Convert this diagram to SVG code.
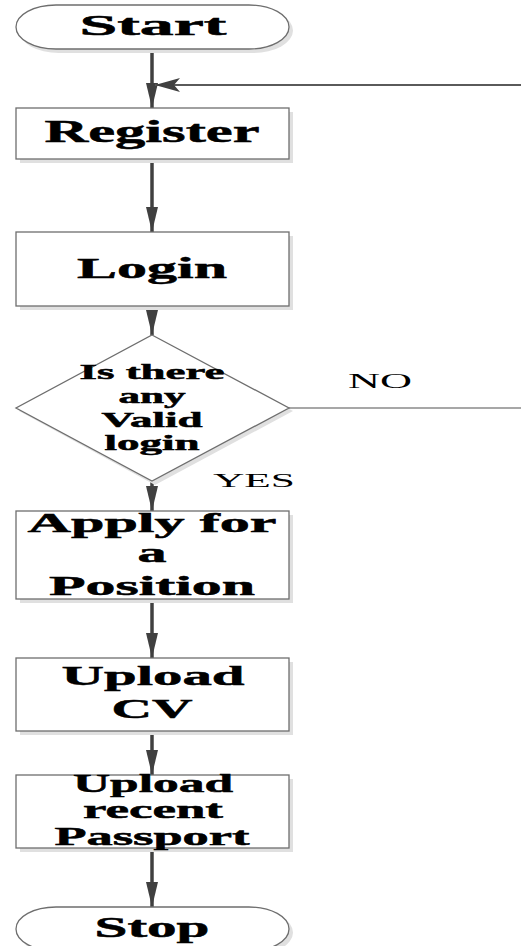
<svg xmlns="http://www.w3.org/2000/svg" width="521" height="946" viewBox="0 0 521 946">
  <style>
    .shape { fill: #ffffff; stroke: #6e6e6e; stroke-width: 1.3; }
    .shadow { fill: #e0e0e0; stroke: none; }
    .label { font-family: "Liberation Serif", "Times New Roman", serif; font-weight: bold; fill: #000; stroke: #000; stroke-width: 0.5; text-anchor: middle; }
    .edge-label { font-family: "Liberation Serif", "Times New Roman", serif; fill: #000; }
    .flow { stroke: #404040; stroke-width: 3.5; fill: none; }
    .thin { stroke: #5a5a5a; stroke-width: 2; fill: none; }
    .hair { stroke: #8a8a8a; stroke-width: 1.3; fill: none; }
  </style>
  <defs>
    <marker id="arrow-down" markerUnits="userSpaceOnUse" markerWidth="26" markerHeight="12" refX="25" refY="6" orient="auto" viewBox="0 0 26 12">
      <path d="M0,0 L25,6 L0,12 Z" fill="#404040"/>
    </marker>
    <marker id="arrow-back" markerUnits="userSpaceOnUse" markerWidth="26" markerHeight="14" refX="25" refY="7" orient="auto" viewBox="0 0 26 14">
      <path d="M0,0 L25,7 L0,14 L6,7 Z" fill="#404040"/>
    </marker>
  </defs>

  <rect width="521" height="946" fill="#ffffff"/>

  <!-- connectors -->
  <g id="connectors">
    <line class="flow" x1="152" y1="50" x2="152" y2="108" marker-end="url(#arrow-down)"/>
    <line class="thin" x1="521" y1="85" x2="155" y2="85" marker-end="url(#arrow-back)"/>
    <line class="flow" x1="152" y1="160" x2="152" y2="232" marker-end="url(#arrow-down)"/>
    <line class="flow" x1="152" y1="307" x2="152" y2="335" marker-end="url(#arrow-down)"/>
    <line class="hair" x1="289" y1="408" x2="521" y2="408"/>
    <line class="flow" x1="152" y1="482" x2="152" y2="511" marker-end="url(#arrow-down)"/>
    <line class="flow" x1="152" y1="600" x2="152" y2="658" marker-end="url(#arrow-down)"/>
    <line class="flow" x1="152" y1="732" x2="152" y2="775" marker-end="url(#arrow-down)"/>
    <line class="flow" x1="152" y1="849" x2="152" y2="907" marker-end="url(#arrow-down)"/>
    <text class="edge-label" x="348" y="388" font-size="20" textLength="64" lengthAdjust="spacingAndGlyphs">NO</text>
    <text class="edge-label" x="213" y="487" font-size="19" textLength="82" lengthAdjust="spacingAndGlyphs">YES</text>
  </g>

  <!-- Start terminator -->
  <g id="start">
    <rect class="shadow" x="19" y="8" width="274" height="45" rx="40" ry="22.5"/>
    <rect class="shape" x="16" y="5" width="273" height="44" rx="40" ry="22"/>
    <text class="label" x="153" y="35" font-size="29" textLength="147" lengthAdjust="spacingAndGlyphs">Start</text>
  </g>

  <!-- Register -->
  <g id="register">
    <rect class="shadow" x="20" y="112" width="273" height="51"/>
    <rect class="shape" x="16" y="108" width="273" height="51"/>
    <text class="label" x="152" y="142" font-size="31" textLength="215" lengthAdjust="spacingAndGlyphs">Register</text>
  </g>

  <!-- Login -->
  <g id="login">
    <rect class="shadow" x="20" y="236" width="273" height="74"/>
    <rect class="shape" x="16" y="232" width="273" height="74"/>
    <text class="label" x="152" y="278" font-size="30" textLength="150" lengthAdjust="spacingAndGlyphs">Login</text>
  </g>

  <!-- Decision -->
  <g id="valid-login">
    <polygon class="shadow" points="155,339 293,411 155,485 19,411"/>
    <polygon class="shape" points="152,335 289,408 152,481 16,408"/>
    <text class="label" x="152" y="379" font-size="21" textLength="145" lengthAdjust="spacingAndGlyphs">Is there</text>
    <text class="label" x="152" y="403" font-size="21" textLength="67" lengthAdjust="spacingAndGlyphs">any</text>
    <text class="label" x="152" y="427" font-size="21" textLength="101" lengthAdjust="spacingAndGlyphs">Valid</text>
    <text class="label" x="152" y="450" font-size="21" textLength="95" lengthAdjust="spacingAndGlyphs">login</text>
  </g>

  <!-- Apply for a Position -->
  <g id="apply">
    <rect class="shadow" x="20" y="515" width="273" height="88"/>
    <rect class="shape" x="16" y="511" width="273" height="88"/>
    <text class="label" x="152" y="532" font-size="27" textLength="249" lengthAdjust="spacingAndGlyphs">Apply for</text>
    <text class="label" x="152" y="562" font-size="27" textLength="29" lengthAdjust="spacingAndGlyphs">a</text>
    <text class="label" x="152" y="595" font-size="27" textLength="206" lengthAdjust="spacingAndGlyphs">Position</text>
  </g>

  <!-- Upload CV -->
  <g id="upload-cv">
    <rect class="shadow" x="20" y="662" width="273" height="73"/>
    <rect class="shape" x="16" y="658" width="273" height="73"/>
    <text class="label" x="153" y="685" font-size="28" textLength="183" lengthAdjust="spacingAndGlyphs">Upload</text>
    <text class="label" x="152" y="718" font-size="28" textLength="81" lengthAdjust="spacingAndGlyphs">CV</text>
  </g>

  <!-- Upload recent Passport -->
  <g id="upload-passport">
    <rect class="shadow" x="20" y="779" width="273" height="73"/>
    <rect class="shape" x="16" y="775" width="273" height="73"/>
    <text class="label" x="153" y="792" font-size="25" textLength="160" lengthAdjust="spacingAndGlyphs">Upload</text>
    <text class="label" x="153" y="818" font-size="25" textLength="140" lengthAdjust="spacingAndGlyphs">recent</text>
    <text class="label" x="152" y="845" font-size="25" textLength="195" lengthAdjust="spacingAndGlyphs">Passport</text>
  </g>

  <!-- Stop terminator -->
  <g id="stop">
    <rect class="shadow" x="19" y="910" width="274" height="45" rx="40" ry="22.5"/>
    <rect class="shape" x="16" y="907" width="273" height="44" rx="40" ry="22"/>
    <text class="label" x="152" y="937" font-size="30" textLength="115" lengthAdjust="spacingAndGlyphs">Stop</text>
  </g>
</svg>
